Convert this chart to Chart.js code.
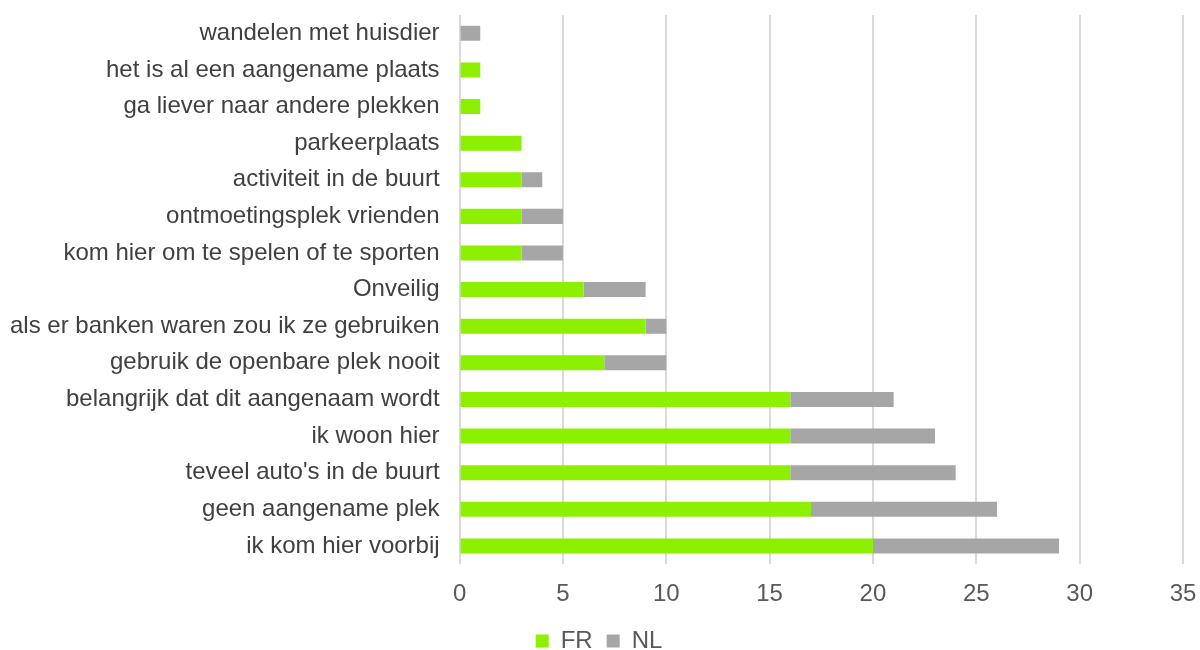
<!DOCTYPE html>
<html>
<head>
<meta charset="utf-8">
<script src="https://cdn.jsdelivr.net/npm/chart.js@4/dist/chart.umd.min.js"></script>
<style>
  html, body { margin: 0; padding: 0; background: #fff; }
  #wrap { width: 1200px; height: 650px; }
</style>
</head>
<body>
<div id="wrap"><canvas id="answersChart"></canvas></div>
<script>
// answers, top to bottom
const categories = [
  "wandelen met huisdier",
  "het is al een aangename plaats",
  "ga liever naar andere plekken",
  "parkeerplaats",
  "activiteit in de buurt",
  "ontmoetingsplek vrienden",
  "kom hier om te spelen of te sporten",
  "Onveilig",
  "als er banken waren zou ik ze gebruiken",
  "gebruik de openbare plek nooit",
  "belangrijk dat dit aangenaam wordt",
  "ik woon hier",
  "teveel auto's in de buurt",
  "geen aangename plek",
  "ik kom hier voorbij"
];

const frValues = [0, 1, 1, 3, 3, 3, 3, 6, 9, 7, 16, 16, 16, 17, 20];
const nlValues = [1, 0, 0, 0, 1, 2, 2, 3, 1, 3, 5, 7, 8, 9, 9];

const xTicks = [0, 5, 10, 15, 20, 25, 30, 35];

const FONT = "'Liberation Sans', Arial, sans-serif";

const ctx = document.getElementById("answersChart").getContext("2d");

new Chart(ctx, {
  type: "bar",
  data: {
    labels: categories,
    datasets: [
      {
        label: "FR",
        data: frValues,
        backgroundColor: "#8CF000",
        barPercentage: 0.41,
        categoryPercentage: 1
      },
      {
        label: "NL",
        data: nlValues,
        backgroundColor: "#A6A6A6",
        barPercentage: 0.41,
        categoryPercentage: 1
      }
    ]
  },
  options: {
    indexAxis: "y",
    responsive: true,
    maintainAspectRatio: false,
    animation: false,
    layout: { padding: { top: 15, right: 0, left: -2, bottom: -13 } },
    plugins: {
      tooltip: { enabled: false },
      legend: {
        position: "bottom",
        labels: {
          boxWidth: 13,
          boxHeight: 13,
          padding: 14,
          color: "#595959",
          font: { family: FONT, size: 24 }
        }
      }
    },
    scales: {
      x: {
        stacked: true,
        min: 0,
        max: 35,
        afterBuildTicks: axis => { axis.ticks = xTicks.map(v => ({ value: v })); },
        // tighter box: less room below the ticks and right of "35"
        afterFit: axis => {
          axis.height -= 10;
          axis.paddingRight = 17;
        },
        grid: { color: "#D9D9D9", lineWidth: 2, drawTicks: false },
        border: { display: false },
        ticks: {
          color: "#595959",
          padding: 16,
          font: { family: FONT, size: 24 }
        }
      },
      y: {
        stacked: true,
        // no extra room above the first / below the last category
        afterFit: axis => { axis.paddingTop = 0; axis.paddingBottom = 0; },
        grid: { display: false },
        border: { display: false },
        ticks: {
          color: "#404040",
          padding: 12,
          font: { family: FONT, size: 24 }
        }
      }
    }
  }
});
</script>
</body>
</html>
